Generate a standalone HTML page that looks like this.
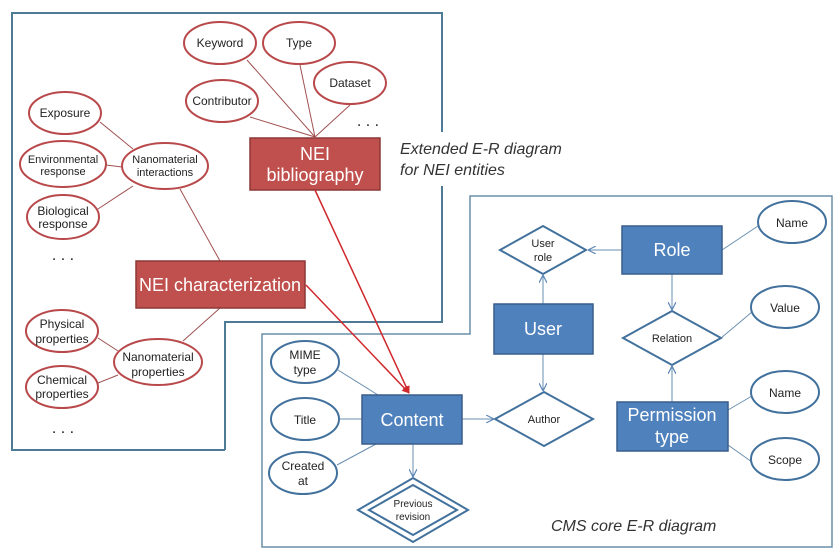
<!DOCTYPE html>
<html><head><meta charset="utf-8"><style>
body{margin:0;background:#fff}
svg{display:block}
text{font-family:"Liberation Sans",sans-serif}
</style></head><body>
<svg width="839" height="559" viewBox="0 0 839 559" xmlns="http://www.w3.org/2000/svg">
<defs>
<marker id="ao" viewBox="0 0 10 10" refX="10" refY="5" markerWidth="8" markerHeight="8" orient="auto"><path d="M0,0 L10,5 L0,10" fill="none" stroke="#5b87b8" stroke-width="1.5"/></marker>
<marker id="ar" viewBox="0 0 10 10" refX="9" refY="5" markerWidth="5" markerHeight="5" orient="auto"><path d="M0,0 L10,5 L0,10 z" fill="#d0282c"/></marker>
</defs>
<!-- frames -->
<polyline points="225,450 12,450 12,13 442,13 442,132" fill="none" stroke="#4d7a94" stroke-width="2"/>
<polyline points="442,186 442,322 225,322 225,450" fill="none" stroke="#4d7a94" stroke-width="2"/>
<polygon points="262,334 470,334 470,196 832,196 832,547 262,547" fill="none" stroke="#6a8fa8" stroke-width="1.5"/>
<text x="400" y="154" font-size="16" font-style="italic" fill="#333">Extended E-R diagram</text>
<text x="400" y="175" font-size="16" font-style="italic" fill="#333">for NEI entities</text>
<text x="551" y="531" font-size="16" font-style="italic" fill="#333">CMS core E-R diagram</text>

<!-- red lines -->
<g stroke="#a05050" stroke-width="1">
<line x1="315" y1="137" x2="247" y2="60"/><line x1="315" y1="137" x2="300" y2="65"/>
<line x1="315" y1="137" x2="350" y2="105"/><line x1="315" y1="137" x2="250" y2="117"/>
<line x1="100" y1="122" x2="133" y2="149"/><line x1="106" y1="165" x2="122" y2="167"/>
<line x1="98" y1="209" x2="133" y2="186"/><line x1="180" y1="189" x2="220" y2="261"/>
<line x1="220" y1="308" x2="183" y2="341"/><line x1="98" y1="338" x2="118" y2="351"/>
<line x1="98" y1="383" x2="118" y2="375"/>
</g>
<g fill="#fff" stroke="#b8484a" stroke-width="2">
<ellipse cx="220" cy="43" rx="36" ry="21"/><ellipse cx="299" cy="43" rx="36" ry="21"/>
<ellipse cx="350" cy="83" rx="36" ry="21"/><ellipse cx="222" cy="101" rx="36" ry="21"/>
<ellipse cx="65" cy="113" rx="36" ry="21"/><ellipse cx="63" cy="164" rx="43" ry="23"/>
<ellipse cx="63" cy="217" rx="36" ry="22"/><ellipse cx="165" cy="166" rx="43" ry="23"/>
<ellipse cx="62" cy="331" rx="36" ry="21"/><ellipse cx="62" cy="387" rx="36" ry="21"/>
<ellipse cx="158" cy="362" rx="44" ry="23"/>
</g>
<g font-size="12" fill="#222" text-anchor="middle">
<text x="220" y="47">Keyword</text><text x="299" y="47">Type</text>
<text x="350" y="87">Dataset</text><text x="222" y="105">Contributor</text>
<text x="65" y="117">Exposure</text>
<text x="63" y="163" font-size="11">Environmental</text><text x="63" y="175" font-size="11">response</text>
<text x="63" y="215">Biological</text><text x="63" y="228">response</text>
<text x="165" y="163" font-size="11">Nanomaterial</text><text x="165" y="176" font-size="11">interactions</text>
<text x="62" y="328">Physical</text><text x="62" y="343">properties</text>
<text x="62" y="384">Chemical</text><text x="62" y="398">properties</text>
<text x="158" y="361">Nanomaterial</text><text x="158" y="376">properties</text>
<text x="368" y="126" font-size="16">. . .</text>
<text x="63" y="260" font-size="16">. . .</text>
<text x="63" y="433" font-size="16">. . .</text>
</g>
<rect x="250" y="138" width="130" height="52" fill="#c0504d" stroke="#8c3836" stroke-width="1.5"/>
<rect x="136" y="261" width="169" height="47" fill="#c0504d" stroke="#8c3836" stroke-width="1.5"/>
<g fill="#fff" font-size="18" text-anchor="middle">
<text x="315" y="160">NEI</text><text x="315" y="181">bibliography</text>
<text x="220" y="291">NEI characterization</text>
</g>

<!-- blue lines -->
<g stroke="#6a8fb0" stroke-width="1" fill="none">
<line x1="622" y1="250" x2="588" y2="250" marker-end="url(#ao)"/>
<line x1="543" y1="304" x2="543" y2="275" marker-end="url(#ao)"/>
<line x1="543" y1="354" x2="543" y2="391" marker-end="url(#ao)"/>
<line x1="462" y1="419" x2="494" y2="419" marker-end="url(#ao)"/>
<line x1="672" y1="274" x2="672" y2="310" marker-end="url(#ao)"/>
<line x1="672" y1="402" x2="672" y2="366" marker-end="url(#ao)"/>
<line x1="413" y1="444" x2="413" y2="477" marker-end="url(#ao)"/>
<line x1="722" y1="250" x2="758" y2="226"/>
<line x1="721" y1="338" x2="752" y2="312"/>
<line x1="728" y1="410" x2="752" y2="396"/>
<line x1="728" y1="445" x2="752" y2="462"/>
<line x1="338" y1="370" x2="378" y2="395"/>
<line x1="339" y1="419" x2="362" y2="419"/>
<line x1="337" y1="465" x2="376" y2="444"/>
</g>
<g fill="#fff" stroke="#41719c" stroke-width="2">
<ellipse cx="792" cy="222" rx="34" ry="21"/><ellipse cx="785" cy="307" rx="34" ry="21"/>
<ellipse cx="785" cy="392" rx="34" ry="21"/><ellipse cx="785" cy="459" rx="34" ry="21"/>
<ellipse cx="305" cy="362" rx="34" ry="21"/><ellipse cx="305" cy="419" rx="34" ry="21"/>
<ellipse cx="303" cy="473" rx="34" ry="21"/>
<polygon points="500,250 543,226 586,250 543,274"/>
<polygon points="623,338 672,311 721,338 672,365"/>
<polygon points="495,419 544,392 593,419 544,446"/>
<polygon points="358,510 413,478 468,510 413,542"/>
<polygon points="369,510 413,485 457,510 413,535"/>
</g>
<g fill="#4f81bd" stroke="#385d8a" stroke-width="1.5">
<rect x="622" y="226" width="100" height="48"/>
<rect x="494" y="304" width="99" height="50"/>
<rect x="617" y="402" width="111" height="49"/>
<rect x="362" y="395" width="100" height="49"/>
</g>
<g fill="#fff" font-size="18" text-anchor="middle">
<text x="672" y="256">Role</text><text x="543" y="335">User</text>
<text x="672" y="421">Permission</text><text x="672" y="443">type</text>
<text x="412" y="426">Content</text>
</g>
<g font-size="12" fill="#222" text-anchor="middle">
<text x="792" y="227">Name</text><text x="785" y="312">Value</text>
<text x="785" y="397">Name</text><text x="785" y="464">Scope</text>
<text x="305" y="359">MIME</text><text x="305" y="374">type</text>
<text x="305" y="424">Title</text>
<text x="303" y="470">Created</text><text x="303" y="485">at</text>
<text x="543" y="247" font-size="11">User</text><text x="543" y="261" font-size="11">role</text>
<text x="672" y="342" font-size="11">Relation</text>
<text x="544" y="423" font-size="11">Author</text>
<text x="413" y="507" font-size="10">Previous</text><text x="413" y="520" font-size="10">revision</text>
</g>
<!-- red arrows -->
<g stroke="#d0282c" stroke-width="1.5">
<line x1="315" y1="190" x2="409" y2="393" marker-end="url(#ar)"/>
<line x1="306" y1="285" x2="409" y2="393" marker-end="url(#ar)"/>
</g>
</svg>
</body></html>
